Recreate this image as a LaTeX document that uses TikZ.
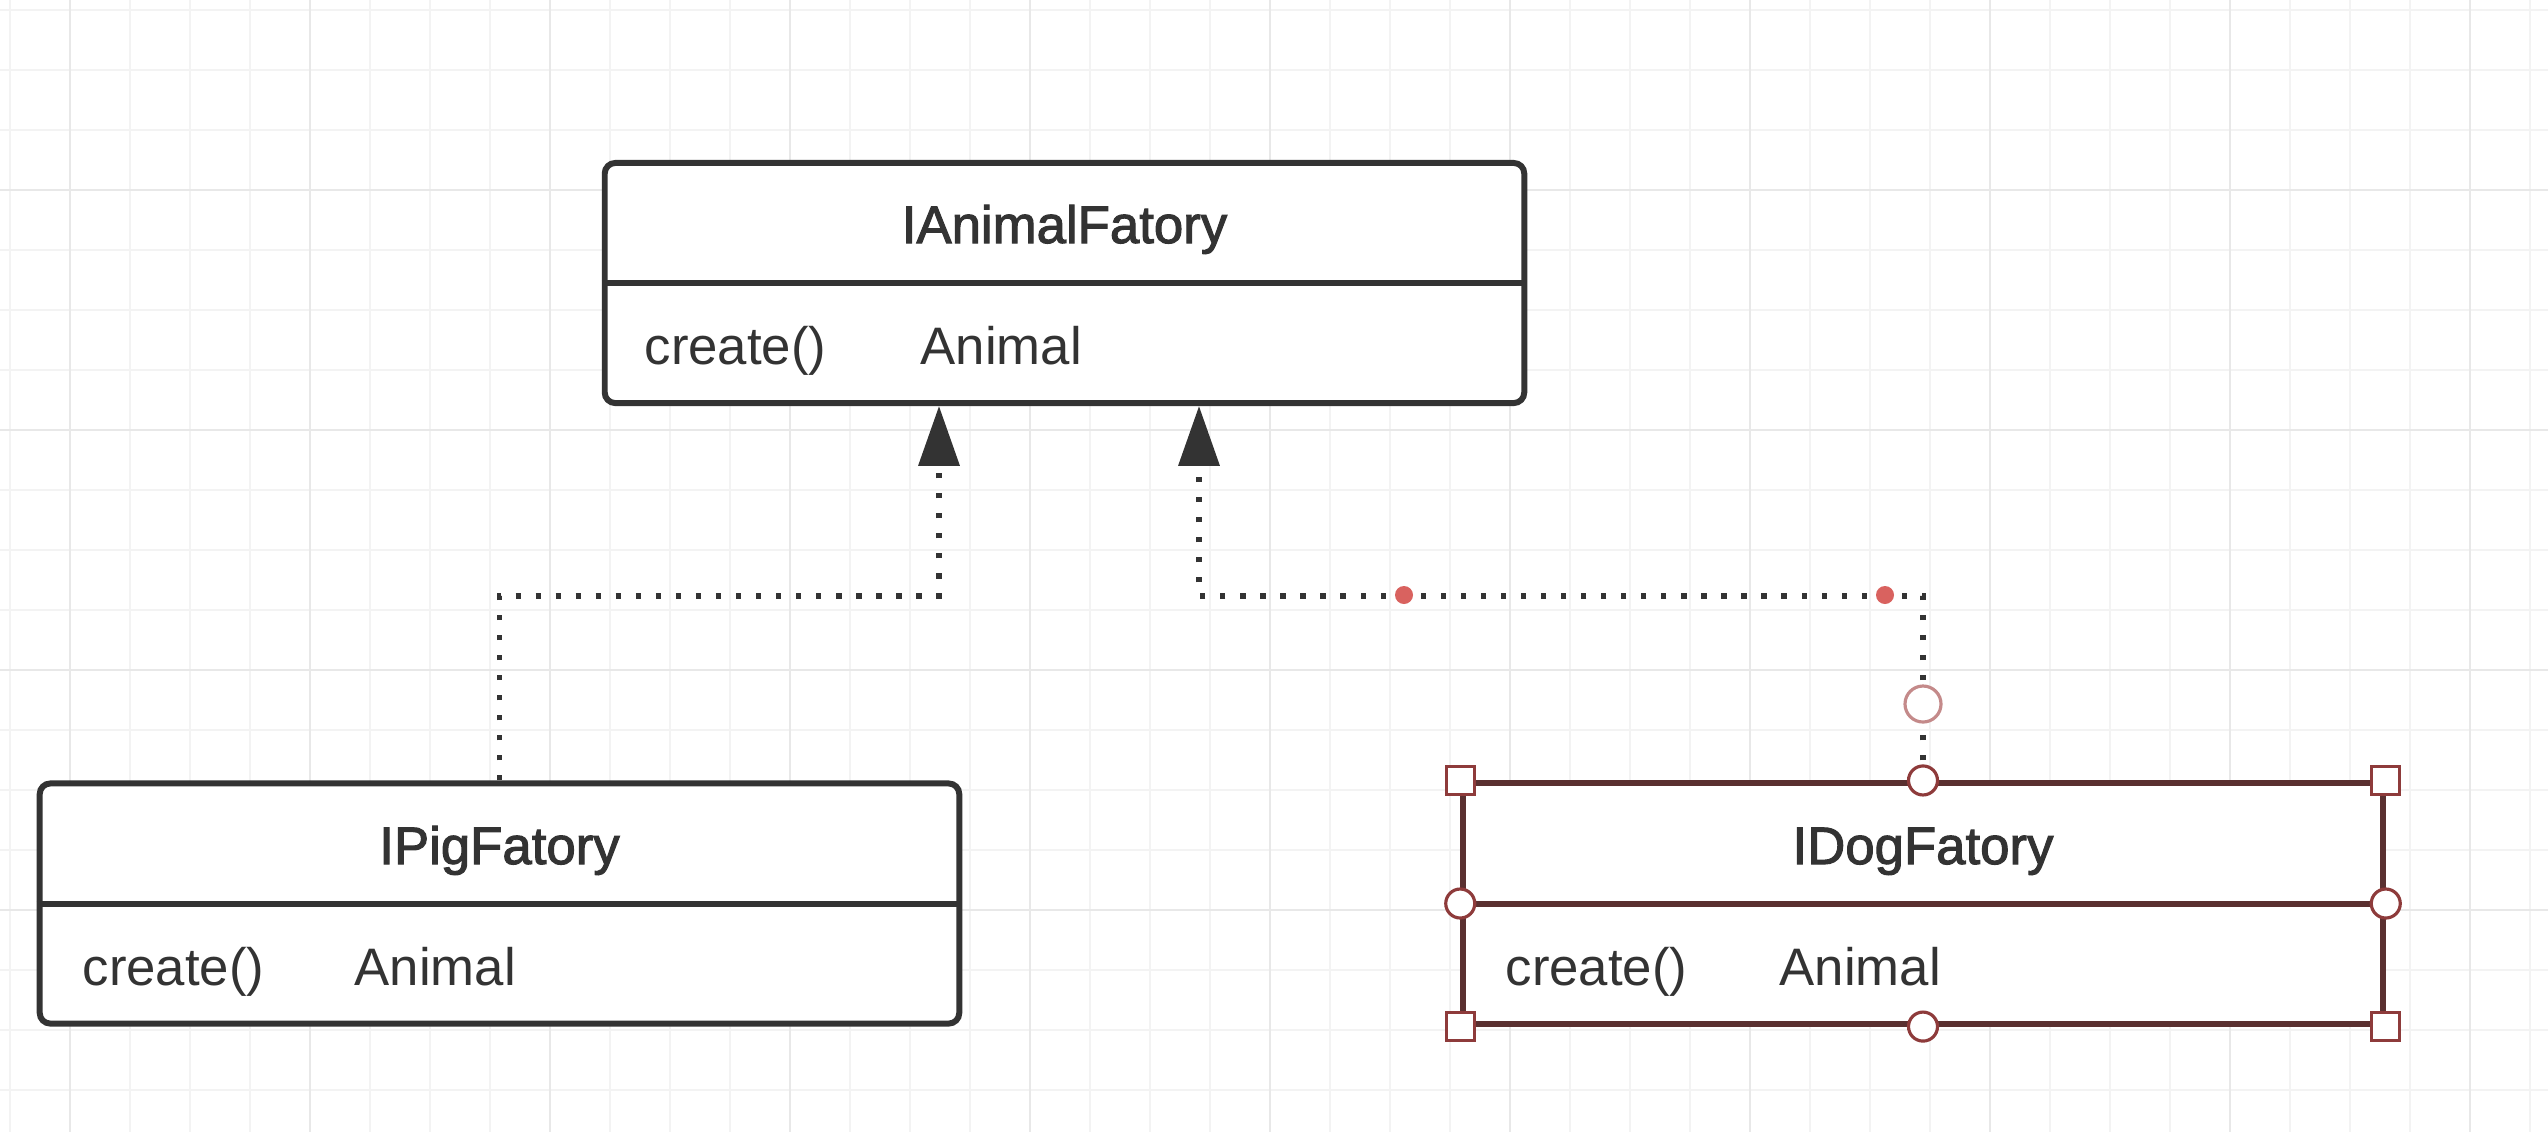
\documentclass[tikz,border=0pt]{standalone}
\usepackage{fontspec}
\setmainfont{Liberation Sans}
\newfontfamily\titlefont[FakeBold=2]{Liberation Sans}
\usepackage{tikz}
\usetikzlibrary{positioning,arrows.meta}
\definecolor{inkgray}{HTML}{333333}
\definecolor{gridminor}{HTML}{F3F3F3}
\definecolor{gridmajor}{HTML}{E8E8E8}
\definecolor{selbrown}{HTML}{5A3030}
\definecolor{selred}{HTML}{8E3B3B}
\definecolor{linkpink}{HTML}{C48A8A}
\definecolor{dotred}{HTML}{D9625F}
\newcommand{\umlsize}{\fontsize{15}{18}\selectfont}

\tikzset{
  classbox/.style={draw=inkgray, line width=1.7pt, rounded corners=3pt, fill=white,
    minimum width=9.19cm, minimum height=2.4cm, inner sep=0pt},
  classname/.style={font=\titlefont\umlsize, text=inkgray, inner sep=0pt, anchor=base},
  member/.style={font=\umlsize, text=inkgray, inner sep=0pt, anchor=base west},
  realize/.style={draw=inkgray, line width=1.5pt, dash pattern=on 1.5pt off 4.2pt,
    -{Triangle[length=17pt,width=11.5pt]}},
  cornerhandle/.style={draw=selred, fill=white, line width=0.9pt, minimum size=0.28cm, inner sep=0pt},
  sidehandle/.style={circle, draw=selred, fill=white, line width=0.9pt, minimum size=0.29cm, inner sep=0pt},
  linkhandle/.style={circle, draw=linkpink, fill=white, line width=0.9pt, minimum size=0.36cm, inner sep=0pt},
  waypoint/.style={circle, fill=dotred, minimum size=0.18cm, inner sep=0pt},
}

\begin{document}
\begin{tikzpicture}[x=0.01cm, y=-0.01cm]
  \useasboundingbox[fill=white] (0,0) rectangle (2548,1132);
  % grid
  \foreach \gx in {0,...,42}
    \draw[gridminor, line width=0.8pt] ({10+60*\gx},0) -- ({10+60*\gx},1132);
  \foreach \gy in {0,...,18}
    \draw[gridminor, line width=0.8pt] (0,{10+60*\gy}) -- (2548,{10+60*\gy});
  \foreach \gx in {70,310,...,2470}
    \draw[gridmajor, line width=0.8pt] (\gx,0) -- (\gx,1132);
  \foreach \gy in {190,430,670,910}
    \draw[gridmajor, line width=0.8pt] (0,\gy) -- (2548,\gy);

  % classes
  \node[classbox] (animal) at (1064.5,283) {};
  \draw[inkgray, line width=1.7pt] (animal.west) -- (animal.east);
  \node[classname] (animalname) at (1064.5,243) {IAnimalFatory};
  \node[member] (animalop) at (644,364) {create()};
  \node[member] (animalret) at (920,364) {Animal};

  \node[classbox] (pig) at (499.5,903.5) {};
  \draw[inkgray, line width=1.7pt] (pig.west) -- (pig.east);
  \node[classname] (pigname) at (499.5,864) {IPigFatory};
  \node[member] (pigop) at (82,985) {create()};
  \node[member] (pigret) at (354,985) {Animal};

  \node[classbox, draw=selbrown, rounded corners=0pt] (dog) at (1923,903.5) {};
  \draw[selbrown, line width=1.7pt] (dog.west) -- (dog.east);
  \node[classname] (dogname) at (1923,864) {IDogFatory};
  \node[member] (dogop) at (1505,985) {create()};
  \node[member] (dogret) at (1779,985) {Animal};

  % realizations
  \coordinate (pigbend) at (939,596);
  \coordinate (dogbend) at (1199,596);
  \draw[realize] (pig.north) |- (pigbend) -- (pigbend |- animal.south);
  \draw[realize] (dog.north) |- (dogbend) -- (dogbend |- animal.south);

  % selection handles
  \node[waypoint] (wpa) at (1404,595) {};
  \node[waypoint] (wpb) at (1885,595) {};
  \node[linkhandle] (doglink) at (1923,704) {};
  \foreach \a/\n in {north west/nw, north east/ne, south west/sw, south east/se}
    \node[cornerhandle] (dog-\n) at (dog.\a) {};
  \foreach \a/\n in {north/n, south/s, west/w, east/e}
    \node[sidehandle] (dog-\n) at (dog.\a) {};
\end{tikzpicture}
\end{document}
